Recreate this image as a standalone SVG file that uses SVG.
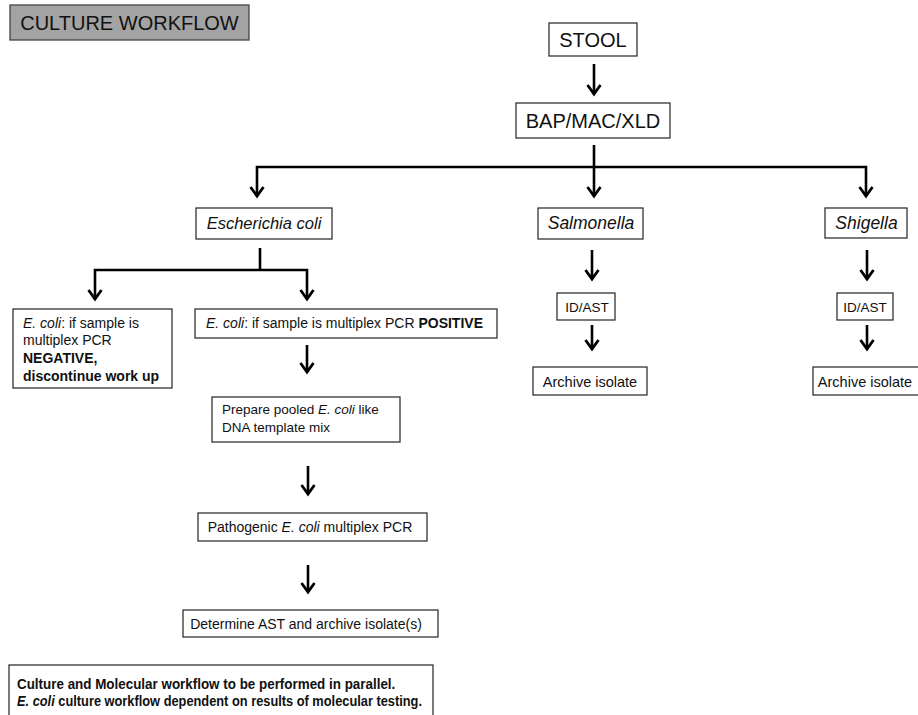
<svg xmlns="http://www.w3.org/2000/svg" width="918" height="715" viewBox="0 0 918 715">
<style>
.box{fill:#fff;stroke:#333;stroke-width:1.3}
.t{font-family:"Liberation Sans",Arial,sans-serif;fill:#111}
.c{stroke:#000;stroke-width:2.6;fill:none}
.ah{stroke:#000;stroke-width:2.8;fill:none;stroke-linejoin:miter}
</style>
<rect width="918" height="715" fill="#fff"/>
<g id="title">
<rect x="10" y="5" width="239" height="35" fill="#a3a3a3" stroke="#444" stroke-width="1.3"/>
<text class="t" x="129.5" y="30" font-size="20" text-anchor="middle">CULTURE WORKFLOW</text>
</g>
<g id="stool">
<rect class="box" x="549" y="23" width="88" height="33"/>
<text class="t" x="593" y="47" font-size="20" text-anchor="middle">STOOL</text>
</g>
<g id="bap">
<rect class="box" x="516" y="103" width="154" height="35"/>
<text class="t" x="593" y="128" font-size="20" text-anchor="middle">BAP/MAC/XLD</text>
</g>
<g id="ecoli">
<rect class="box" x="196" y="208" width="136" height="31"/>
<text class="t" x="264" y="229" font-size="16.5" font-style="italic" text-anchor="middle">Escherichia coli</text>
</g>
<g id="salmonella">
<rect class="box" x="538" y="208" width="105" height="31"/>
<text class="t" x="591" y="229" font-size="17.5" font-style="italic" text-anchor="middle">Salmonella</text>
</g>
<g id="shigella">
<rect class="box" x="825" y="208" width="82" height="30"/>
<text class="t" x="866.5" y="229" font-size="17.5" font-style="italic" text-anchor="middle">Shigella</text>
</g>
<g id="negative">
<rect class="box" x="13" y="309" width="159" height="79"/>
<text class="t" font-size="14" x="23" y="328"><tspan font-style="italic">E. coli</tspan>: if sample is</text>
<text class="t" font-size="14" x="23" y="345">multiplex PCR</text>
<text class="t" font-size="14" x="23" y="363" font-weight="bold">NEGATIVE,</text>
<text class="t" font-size="14" x="23" y="381" font-weight="bold">discontinue work up</text>
</g>
<g id="positive">
<rect class="box" x="195" y="309" width="302" height="29"/>
<text class="t" font-size="14" x="206" y="328"><tspan font-style="italic">E. coli</tspan>: if sample is multiplex PCR <tspan font-weight="bold">POSITIVE</tspan></text>
</g>
<g id="prepare">
<rect class="box" x="212" y="397" width="188" height="45"/>
<text class="t" font-size="13.5" x="222" y="414">Prepare pooled <tspan font-style="italic">E. coli</tspan> like</text>
<text class="t" font-size="13.5" x="222" y="432">DNA template mix</text>
</g>
<g id="pathogenic">
<rect class="box" x="198" y="513" width="229" height="28"/>
<text class="t" font-size="14" x="310" y="532" text-anchor="middle">Pathogenic <tspan font-style="italic">E. coli</tspan> multiplex PCR</text>
</g>
<g id="determine">
<rect class="box" x="183" y="610" width="255" height="27"/>
<text class="t" font-size="14" x="306" y="629" text-anchor="middle">Determine AST and archive isolate(s)</text>
</g>
<g id="idast1">
<rect class="box" x="557" y="293" width="58" height="27"/>
<text class="t" font-size="13.5" x="587" y="312" text-anchor="middle">ID/AST</text>
</g>
<g id="archive1">
<rect class="box" x="533" y="367" width="114" height="28"/>
<text class="t" font-size="14.5" x="590" y="387" text-anchor="middle">Archive isolate</text>
</g>
<g id="idast2">
<rect class="box" x="837" y="293" width="56" height="27"/>
<text class="t" font-size="13.5" x="865" y="312" text-anchor="middle">ID/AST</text>
</g>
<g id="archive2">
<rect class="box" x="813" y="367" width="114" height="28"/>
<text class="t" font-size="14.5" x="865" y="387" text-anchor="middle">Archive isolate</text>
</g>
<g id="note">
<rect class="box" x="9" y="665" width="424" height="60"/>
<text class="t" font-size="15" font-weight="bold" transform="translate(17,689) scale(0.894,1)">Culture and Molecular workflow to be performed in parallel.</text>
<text class="t" font-size="15" font-weight="bold" transform="translate(17,706) scale(0.855,1)"><tspan font-style="italic">E. coli</tspan> culture workflow dependent on results of molecular testing.</text>
</g>
<g id="connectors">
<path class="c" d="M594 64V94"/>
<path class="ah" d="M587.5 85L594 94L600.5 85"/>
<path class="c" d="M594 145V196"/>
<path class="c" d="M257 196V167H866V196"/>
<path class="ah" d="M250.5 187L257 196L263.5 187"/>
<path class="ah" d="M587.5 187L594 196L600.5 187"/>
<path class="ah" d="M859.5 187L866 196L872.5 187"/>
<path class="c" d="M260 248V270"/>
<path class="c" d="M95 299V270H307V299"/>
<path class="ah" d="M88.5 290L95 299L101.5 290"/>
<path class="ah" d="M300.5 290L307 299L313.5 290"/>
<path class="c" d="M307 345V372"/>
<path class="ah" d="M300.5 363L307 372L313.5 363"/>
<path class="c" d="M308 466V494"/>
<path class="ah" d="M301.5 485L308 494L314.5 485"/>
<path class="c" d="M308 565V592"/>
<path class="ah" d="M301.5 583L308 592L314.5 583"/>
<path class="c" d="M592 250V279"/>
<path class="ah" d="M585.5 270L592 279L598.5 270"/>
<path class="c" d="M592 325V349"/>
<path class="ah" d="M585.5 340L592 349L598.5 340"/>
<path class="c" d="M867 250V279"/>
<path class="ah" d="M860.5 270L867 279L873.5 270"/>
<path class="c" d="M867 325V349"/>
<path class="ah" d="M860.5 340L867 349L873.5 340"/>
</g>
</svg>
